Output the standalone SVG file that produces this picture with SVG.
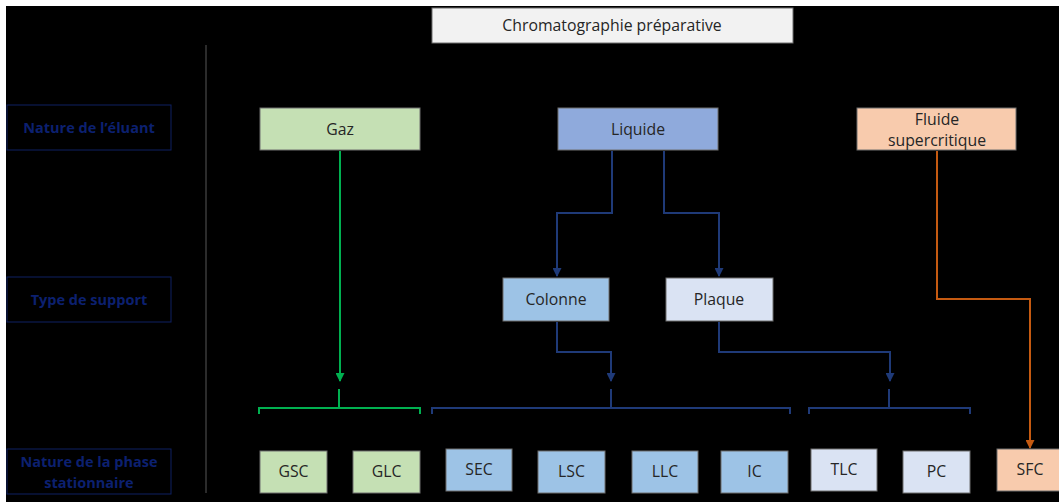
<svg xmlns="http://www.w3.org/2000/svg" width="1059" height="502" viewBox="0 0 1059 502">
<defs>
<style>
.node rect{stroke:#6f6f6f;stroke-width:1}
.node text{font-family:"Open Sans","Liberation Sans",sans-serif;font-size:15.8px;fill:#262626;text-anchor:middle}
.lab rect{fill:none;stroke:#0e2163;stroke-width:1}
.lab text{font-family:"Open Sans","Liberation Sans",sans-serif;font-size:14.5px;font-weight:bold;fill:#0c2070;text-anchor:middle}
.g{stroke:#00b050;stroke-width:2;fill:none}
.b{stroke:#1f3a78;stroke-width:2;fill:none}
.o{stroke:#c55a11;stroke-width:2;fill:none}
.green{fill:#c5e0b4}.blue{fill:#9dc3e6}.lblue{fill:#dae3f3}.peach{fill:#f8cbad}
</style>
<marker id="ag" markerWidth="9" markerHeight="9" refX="8" refY="4.5" orient="auto" markerUnits="userSpaceOnUse" viewBox="0 0 9 9"><path d="M0,0 L9,4.5 L0,9 z" fill="#00b050"/></marker>
<marker id="ab" markerWidth="9" markerHeight="9" refX="8" refY="4.5" orient="auto" markerUnits="userSpaceOnUse" viewBox="0 0 9 9"><path d="M0,0 L9,4.5 L0,9 z" fill="#1f3a78"/></marker>
<marker id="ao" markerWidth="9" markerHeight="9" refX="8" refY="4.5" orient="auto" markerUnits="userSpaceOnUse" viewBox="0 0 9 9"><path d="M0,0 L9,4.5 L0,9 z" fill="#c55a11"/></marker>
</defs>
<rect x="0" y="0" width="1059" height="502" fill="#ffffff"/>
<rect x="6" y="6" width="1053" height="496" fill="#000000"/>
<line x1="206" y1="45" x2="206" y2="493" stroke="#3a3a3a" stroke-width="1.5"/>

<g id="title" class="node"><rect x="432" y="8" width="361" height="35" fill="#f2f2f2"/><text x="612" y="31">Chromatographie préparative</text></g>

<g id="lab-eluant" class="lab"><rect x="7" y="105" width="164" height="45"/><text x="89" y="133">Nature de l’éluant</text></g>
<g id="lab-support" class="lab"><rect x="7" y="277" width="164" height="45"/><text x="89" y="305">Type de support</text></g>
<g id="lab-phase" class="lab"><rect x="7" y="449" width="164" height="45"/><text x="89" y="467">Nature de la phase</text><text x="89" y="488">stationnaire</text></g>

<g id="connectors">
<path class="g" d="M340,151 V381" marker-end="url(#ag)"/>
<path class="g" d="M259,414 V408 H420 V414 M339,408 V389"/>
<path class="b" d="M612,151 V213 H557 V276" marker-end="url(#ab)"/>
<path class="b" d="M664,151 V213 H719 V276" marker-end="url(#ab)"/>
<path class="b" d="M557,322 V352 H611 V381" marker-end="url(#ab)"/>
<path class="b" d="M719,322 V352 H890 V381" marker-end="url(#ab)"/>
<path class="b" d="M432,414 V408 H790 V414 M611,408 V389"/>
<path class="b" d="M809,414 V408 H970 V414 M889,408 V389"/>
<path class="o" d="M937,151 V299 H1030 V448" marker-end="url(#ao)"/>
</g>

<g id="gaz" class="node"><rect x="260" y="108" width="160" height="42" class="green"/><text x="340" y="135">Gaz</text></g>
<g id="liquide" class="node"><rect x="558" y="108" width="160" height="42" fill="#8faadc"/><text x="638" y="135">Liquide</text></g>
<g id="fluide" class="node"><rect x="857" y="108" width="159" height="42" class="peach"/><text x="937" y="125">Fluide</text><text x="937" y="146">supercritique</text></g>

<g id="colonne" class="node"><rect x="503" y="278" width="106" height="43" class="blue"/><text x="556" y="305">Colonne</text></g>
<g id="plaque" class="node"><rect x="666" y="278" width="107" height="43" class="lblue"/><text x="719" y="305">Plaque</text></g>

<g id="gsc" class="node"><rect x="260" y="451" width="67" height="42" class="green"/><text x="293.5" y="477">GSC</text></g>
<g id="glc" class="node"><rect x="353" y="451" width="67" height="42" class="green"/><text x="386.5" y="477">GLC</text></g>
<g id="sec" class="node"><rect x="446" y="449" width="66" height="42" class="blue"/><text x="479" y="475">SEC</text></g>
<g id="lsc" class="node"><rect x="538" y="451" width="67" height="42" class="blue"/><text x="571.5" y="477">LSC</text></g>
<g id="llc" class="node"><rect x="632" y="451" width="66" height="42" class="blue"/><text x="665" y="477">LLC</text></g>
<g id="ic" class="node"><rect x="721" y="451" width="67" height="42" class="blue"/><text x="754.5" y="477">IC</text></g>
<g id="tlc" class="node"><rect x="811" y="449" width="66" height="42" class="lblue"/><text x="844" y="475">TLC</text></g>
<g id="pc" class="node"><rect x="903" y="451" width="67" height="42" class="lblue"/><text x="936.5" y="477">PC</text></g>
<g id="sfc" class="node"><rect x="997" y="449" width="66" height="42" class="peach"/><text x="1030" y="475">SFC</text></g>
</svg>
